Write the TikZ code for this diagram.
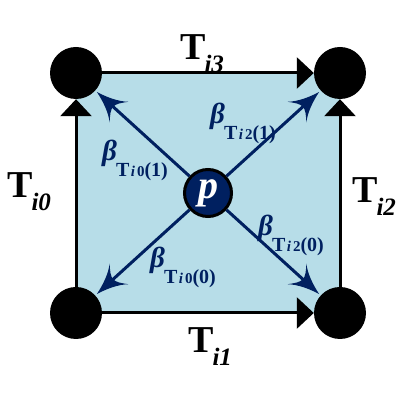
\documentclass[tikz,border=0pt]{standalone}
\usepackage{fontspec}
\setmainfont{Liberation Serif}
\usetikzlibrary{arrows.meta}
\definecolor{fillblue}{RGB}{183,221,232}
\definecolor{navy}{RGB}{0,32,96}
\pgfdeclarearrow{
  name = Swept,
  setup code = {
    \pgfarrowssettipend{0pt}
    \pgfarrowssetlineend{-20pt}
    \pgfarrowssetbackend{-30pt}
  },
  drawing code = {
    \pgfpathmoveto{\pgfqpoint{0pt}{0pt}}
    \pgfpathcurveto{\pgfqpoint{-10pt}{2.5pt}}{\pgfqpoint{-22pt}{7pt}}{\pgfqpoint{-30pt}{14pt}}
    \pgfpathcurveto{\pgfqpoint{-25pt}{8pt}}{\pgfqpoint{-22pt}{4pt}}{\pgfqpoint{-22pt}{0pt}}
    \pgfpathcurveto{\pgfqpoint{-22pt}{-4pt}}{\pgfqpoint{-25pt}{-8pt}}{\pgfqpoint{-30pt}{-14pt}}
    \pgfpathcurveto{\pgfqpoint{-22pt}{-7pt}}{\pgfqpoint{-10pt}{-2.5pt}}{\pgfqpoint{0pt}{0pt}}
    \pgfpathclose
    \pgfusepathqfill
  }
}
\newcommand{\biglab}[1]{\fontsize{38}{38}\selectfont\bfseries T\kern-1pt\raisebox{-13pt}{\fontsize{25}{25}\selectfont\bfseries\itshape #1}}
\newcommand{\betalab}[2]{\fontsize{29}{29}\selectfont\bfseries\itshape β\kern-1pt\raisebox{-16pt}{\fontsize{20}{20}\selectfont\bfseries\upshape T\kern1.5pt{\fontsize{15}{15}\selectfont\itshape i\kern2pt\upshape #1}(#2)}}
\begin{document}
\begin{tikzpicture}[x=1pt,y=1pt,
  corner/.style={circle, fill=black, minimum size=52pt, inner sep=0pt},
  pnode/.style={circle, fill=navy, draw=black, line width=3pt, minimum size=47pt, inner sep=0pt, text=white, font=\fontsize{40}{40}\selectfont\bfseries\itshape},
  edgearrow/.style={line width=3pt, -{Triangle[length=17pt,width=31pt]}},
  barrow/.style={navy, line width=3pt, -{Swept}, shorten >=2pt},
  lab/.style={inner sep=0pt, anchor=base west},
  blab/.style={inner sep=0pt, anchor=north west, text=navy}]
\useasboundingbox (0,0) rectangle (408,402);
\fill[fillblue] (76,89) rectangle (340,329);
\node[corner] (A) at (76,329) {};
\node[corner] (B) at (340,329) {};
\node[corner] (C) at (76,89) {};
\node[corner] (D) at (340,89) {};
\node[pnode] (p) at (208,209) {p};
\draw[edgearrow] (C) -- (A);
\draw[edgearrow] (A) -- (B);
\draw[edgearrow] (C) -- (D);
\draw[edgearrow] (D) -- (B);
\draw[barrow] (p) -- (A);
\draw[barrow] (p) -- (B);
\draw[barrow] (p) -- (C);
\draw[barrow] (p) -- (D);
\node[lab] (t3) at (180,342) {\biglab{i3}};
\node[lab] (t1) at (188,49) {\biglab{i1}};
\node[lab] (t0) at (7,204) {\biglab{i0}};
\node[lab] (t2) at (352,199) {\biglab{i2}};
\node[blab] (b01) at (102,262) {\betalab{0}{1}};
\node[blab] (b21) at (210,299) {\betalab{2}{1}};
\node[blab] (b20) at (258,187) {\betalab{2}{0}};
\node[blab] (b00) at (150,155) {\betalab{0}{0}};
\end{tikzpicture}
\end{document}
